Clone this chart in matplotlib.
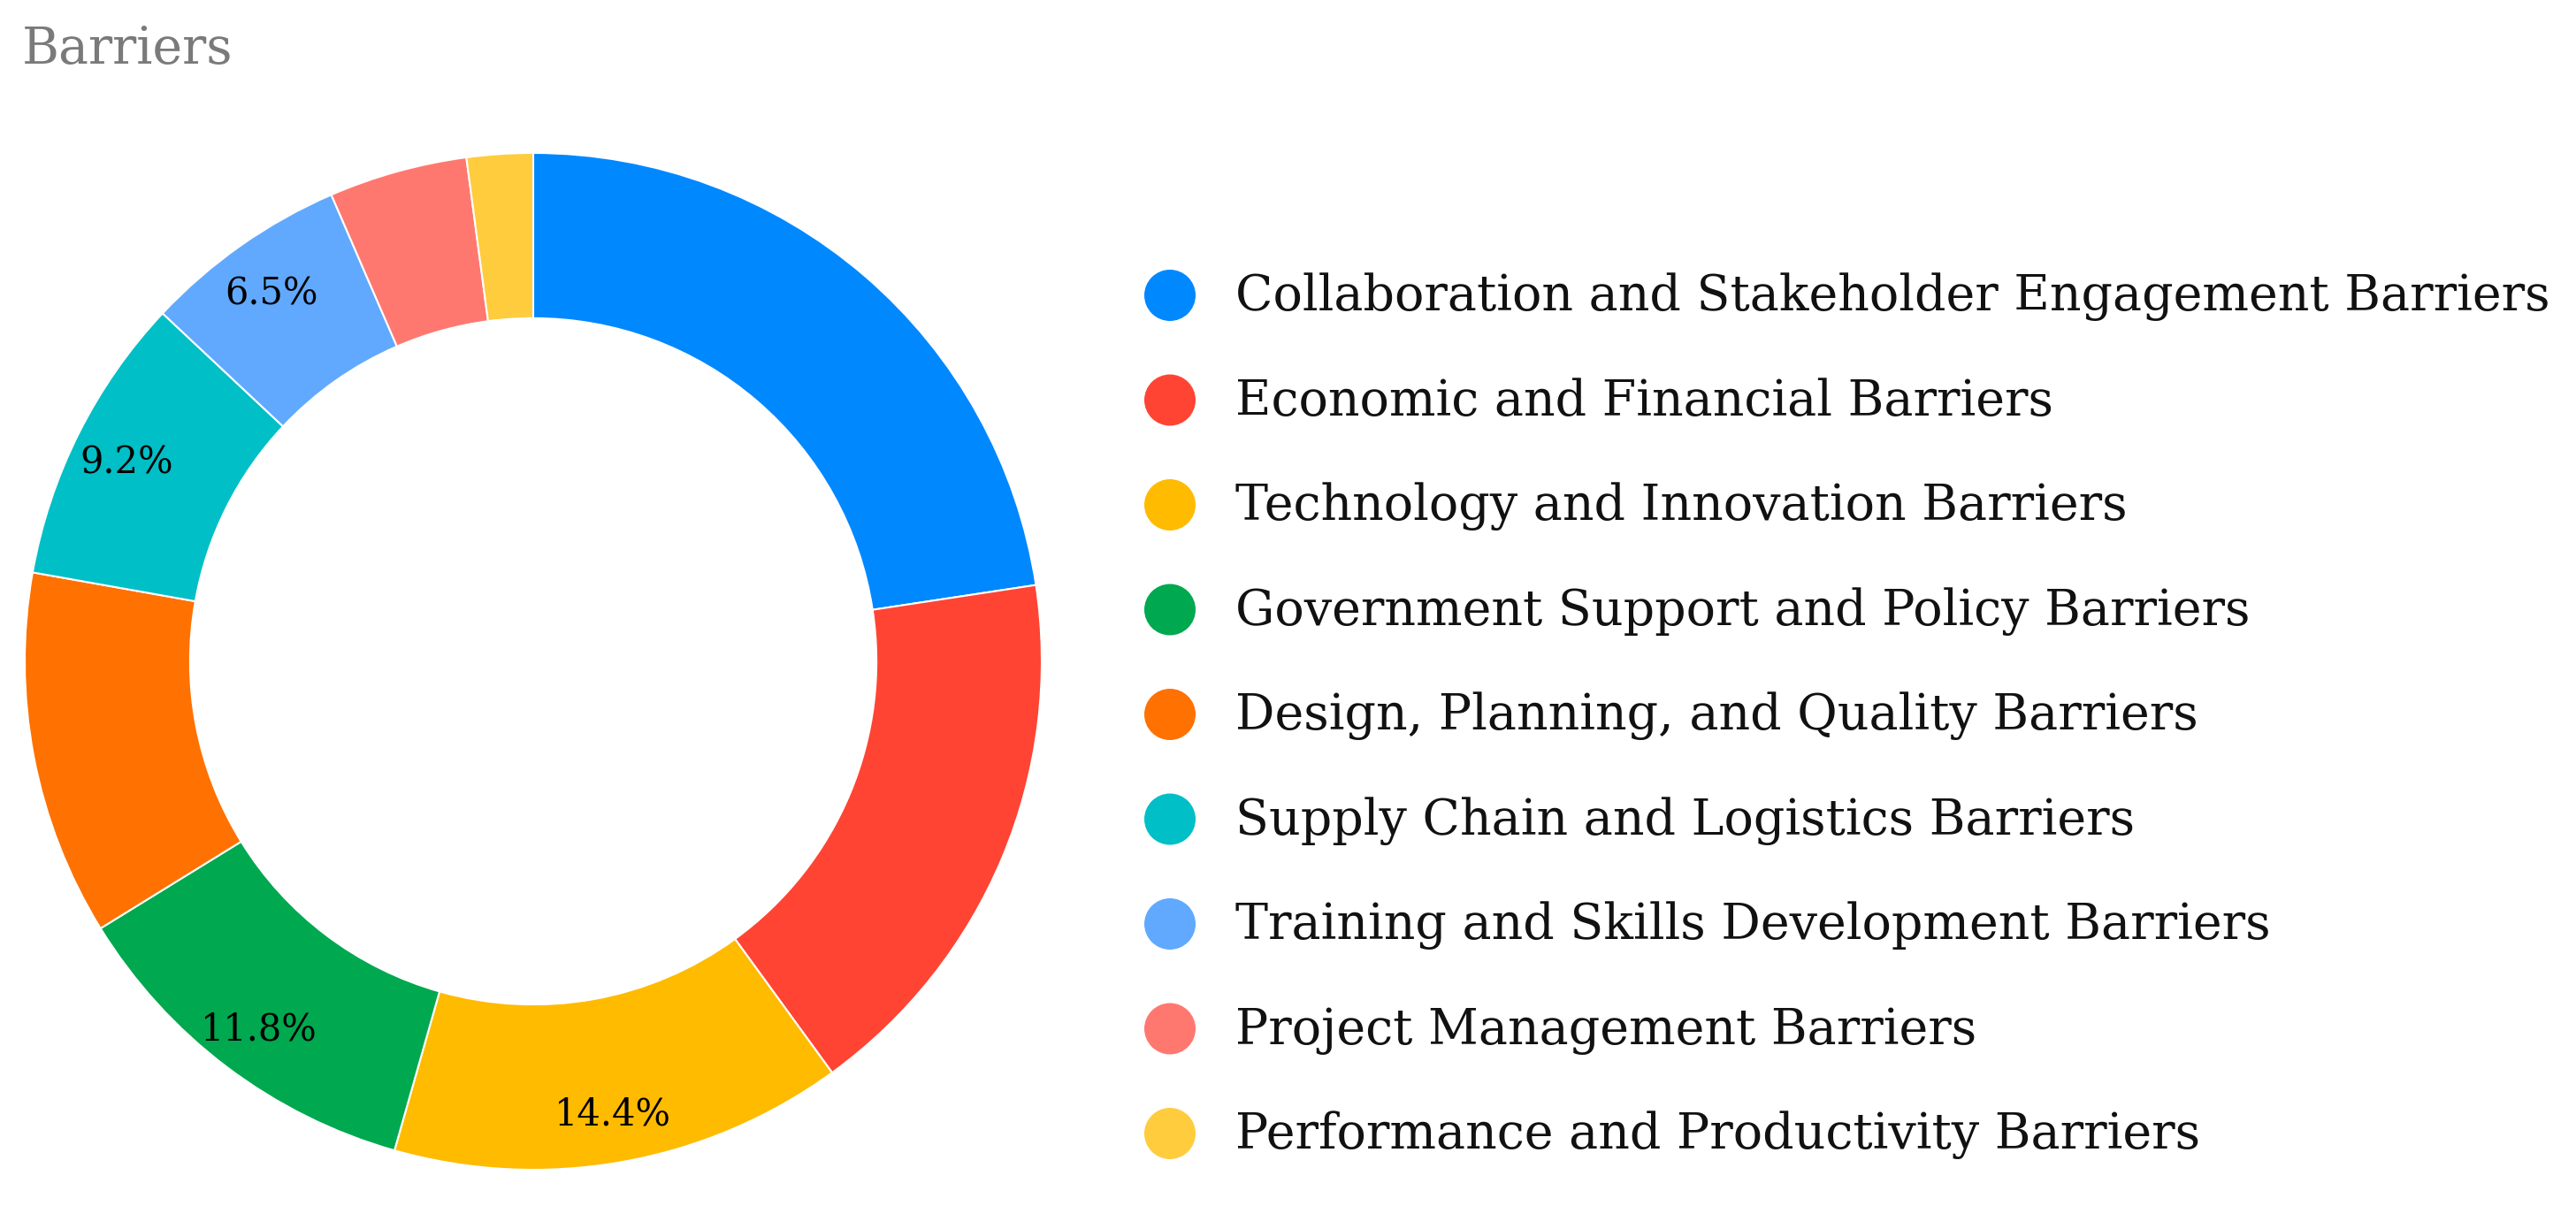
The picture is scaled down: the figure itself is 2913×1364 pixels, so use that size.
import numpy as np
import matplotlib
matplotlib.use('Agg')
import matplotlib.pyplot as plt

# 数据
categories = ['Collaboration and Stakeholder Engagement Barriers',
              'Economic and Financial Barriers',
              'Technology and Innovation Barriers',
              'Government Support and Policy Barriers',
              'Design, Planning, and Quality Barriers',
              'Supply Chain and Logistics Barriers',
              'Training and Skills Development Barriers',
              'Project Management Barriers',
              'Performance and Productivity Barriers']
shares = [22.6, 17.4, 14.4, 11.8, 11.6, 9.2, 6.5, 4.4, 2.1]
show_pct = [False, False, True, True, False, True, True, False, False]
colors = ['#0088FF', '#FF4433', '#FFBB00', '#00A84F', '#FF7100',
          '#00BFC6', '#61A9FF', '#FF7870', '#FFCC3D']

W, H = 2913, 1364
plt.rcParams['font.family'] = ['DejaVu Serif']
fig = plt.figure(figsize=(W / 100, H / 100), dpi=100)

# 环形图
R = 575
cx, cy = 603, 748
ax = fig.add_axes([(cx - R) / W, (H - cy - R) / H, 2 * R / W, 2 * R / H])
wedges, _ = ax.pie(shares, colors=colors, startangle=90, counterclock=False,
                   radius=1.0, wedgeprops=dict(width=0.325, edgecolor='white', linewidth=1.5))
ax.set_xlim(-1, 1)
ax.set_ylim(-1, 1)
ax.set_aspect('equal')
ax.axis('off')

# 百分比标签
for w, v, s in zip(wedges, shares, show_pct):
    if not s:
        continue
    ang = np.deg2rad((w.theta1 + w.theta2) / 2)
    r = 0.895
    ax.text(r * np.cos(ang), r * np.sin(ang) - 0.01, f'{v:.1f}%', ha='center', va='center',
            fontsize=30, color='black')

# 标题
fig.text(25 / W, 1 - 72 / H, 'Barriers', fontsize=41, color='#7a7a7a', ha='left', va='baseline')

# 图例
lax = fig.add_axes([0, 0, 1, 1])
lax.set_xlim(0, W)
lax.set_ylim(H, 0)
lax.axis('off')
y0, dy = 334, 118.5
for i, (name, c) in enumerate(zip(categories, colors)):
    y = y0 + i * dy
    lax.scatter([1323], [y], s=(58 * 0.72) ** 2, color=c, edgecolors='none')
    lax.text(1397, y + 2, name, fontsize=40, color='#111111', ha='left', va='center')

fig.savefig('out.png', dpi=100)
